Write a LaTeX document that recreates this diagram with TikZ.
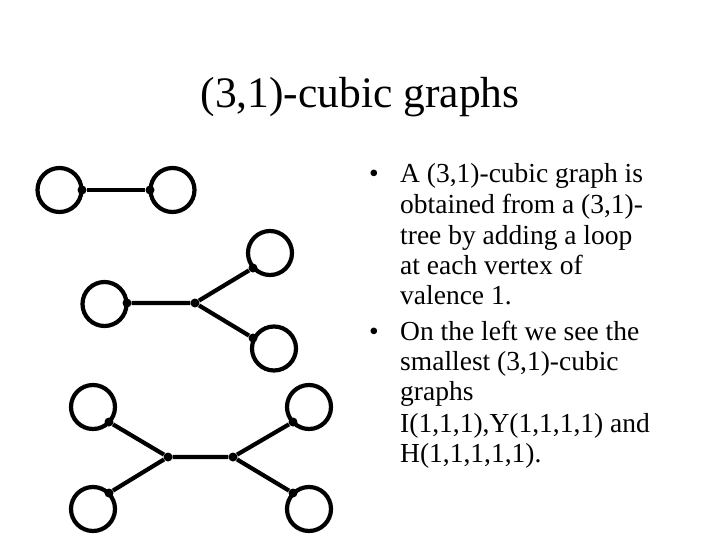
\documentclass[tikz,border=0pt]{standalone}
\usepackage{fontspec}
\setmainfont{Liberation Serif}
\begin{document}
\begin{tikzpicture}[x=1pt,y=-1pt,
  edge/.style={line width=4.2pt},
  loopc/.style={draw,circle,line width=4.2pt,minimum size=44pt,inner sep=0pt},
  vtx/.style={fill,circle,inner sep=0pt,minimum size=9pt},
  ln/.style={anchor=base west,inner sep=0pt,font=\fontsize{27.5}{30}\selectfont},
  bul/.style={anchor=base,inner sep=0pt,font=\fontsize{27.5}{30}\selectfont}]
\useasboundingbox (0,0) rectangle (720,540);
\node[anchor=base,inner sep=0pt,font=\fontsize{43.5}{50}\selectfont] (title) at (360,108) {(3,1)-cubic graphs};
% I graph
\node[vtx] (i1) at (82,190) {};
\node[vtx] (i2) at (150,190) {};
\node[loopc] (li1) at (59.5,190) {};
\node[loopc] (li2) at (172.5,190) {};
\draw[edge] (i1) -- (i2);
% Y graph
\node[vtx] (y0) at (127,303) {};
\node[vtx] (yc) at (195,303) {};
\node[vtx] (y1) at (253,268) {};
\node[vtx] (y2) at (253,338) {};
\node[loopc] (ly0) at (104.5,304) {};
\node[loopc] (ly1) at (270,253) {};
\node[loopc] (ly2) at (274,348.5) {};
\draw[edge] (y0) -- (yc) (yc) -- (y1) (yc) -- (y2);
% H graph
\node[vtx] (h1) at (168,457) {};
\node[vtx] (h2) at (233,457) {};
\node[vtx] (a) at (109,422) {};
\node[vtx] (b) at (109,493) {};
\node[vtx] (c) at (293,422) {};
\node[vtx] (d) at (293,493) {};
\node[loopc] (la) at (93,407) {};
\node[loopc] (lb) at (93,509) {};
\node[loopc] (lc) at (309,407) {};
\node[loopc] (ld) at (309,509) {};
\draw[edge] (h1) -- (h2) (h1) -- (a) (h1) -- (b) (h2) -- (c) (h2) -- (d);
% text
\node[bul] (b1) at (374,183) {•};
\node[ln] (t1) at (400,183) {A (3,1)-cubic graph is};
\node[ln] (t2) at (400,214) {obtained from a (3,1)-};
\node[ln] (t3) at (400,244) {tree by adding a loop};
\node[ln] (t4) at (400,274) {at each vertex of};
\node[ln] (t5) at (400,304) {valence 1.};
\node[bul] (b2) at (374,340) {•};
\node[ln] (t6) at (400,340) {On the left we see the};
\node[ln] (t7) at (400,370) {smallest (3,1)-cubic};
\node[ln] (t8) at (400,400) {graphs};
\node[ln] (t9) at (400,432) {I(1,1,1),Y(1,1,1,1) and};
\node[ln] (t10) at (400,462) {H(1,1,1,1,1).};
\end{tikzpicture}
\end{document}
